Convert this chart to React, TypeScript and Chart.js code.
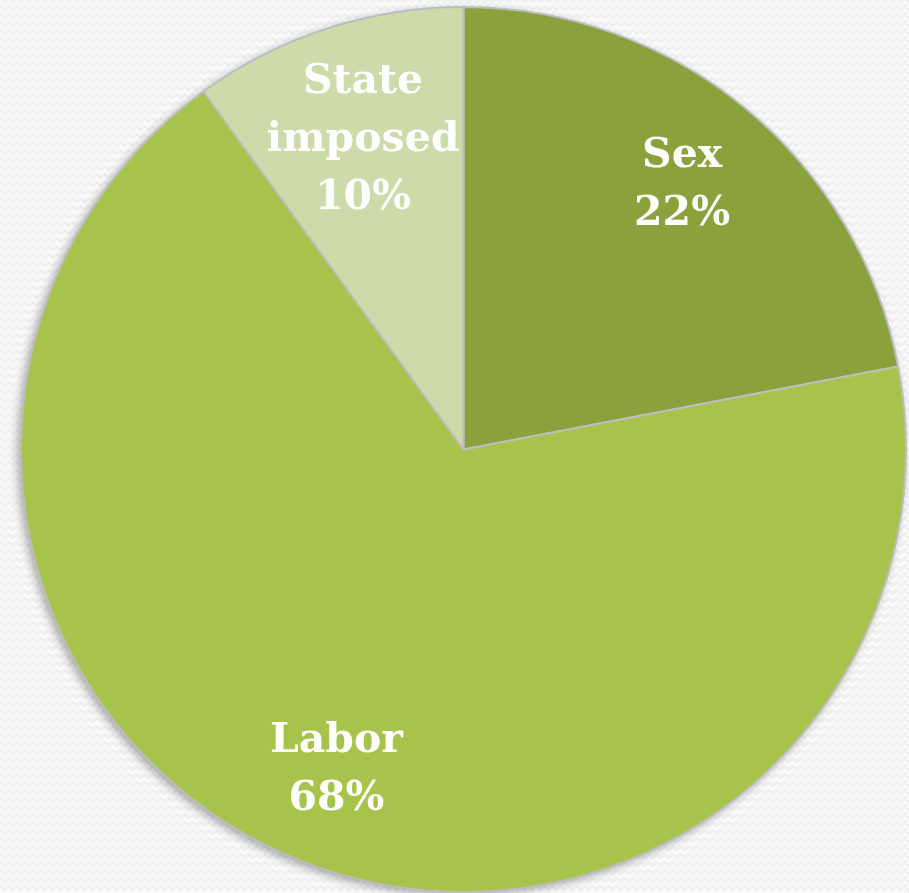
import React, { useEffect, useRef } from "react";
import { Chart, registerables } from "chart.js";

Chart.register(...registerables);

const categories = ["Sex", "Labor", "State\nimposed"];
const shares = [22, 68, 10];
const sliceColors = ["#8AA13C", "#A8C34B", "#CDDAAA"];
const labelRadius = [0.775, 0.78, 0.735];

const shadowPlugin = {
  id: "pieShadow",
  beforeDatasetsDraw(chart: any) {
    const meta = chart.getDatasetMeta(0);
    const arc = meta.data[0];
    if (!arc) return;
    const { x, y, outerRadius } = arc.getProps(["x", "y", "outerRadius"], true);
    const ctx = chart.ctx;
    ctx.save();
    ctx.shadowColor = "rgba(0,0,0,0.35)";
    ctx.shadowBlur = 10;
    ctx.shadowOffsetX = -3;
    ctx.shadowOffsetY = 3;
    ctx.beginPath();
    ctx.arc(x, y, outerRadius, 0, Math.PI * 2);
    ctx.fillStyle = "#bdbdbd";
    ctx.fill();
    ctx.restore();
  },
};

const labelPlugin = {
  id: "sliceLabels",
  afterDatasetsDraw(chart: any) {
    const meta = chart.getDatasetMeta(0);
    const ctx = chart.ctx;
    const data = chart.data.datasets[0].data as number[];
    const total = data.reduce((a, b) => a + b, 0);
    ctx.save();
    ctx.fillStyle = "#ffffff";
    ctx.font = "bold 41px 'DejaVu Serif'";
    ctx.textAlign = "center";
    ctx.textBaseline = "middle";
    meta.data.forEach((el: any, i: number) => {
      const { x, y, startAngle, endAngle, outerRadius } = el.getProps(
        ["x", "y", "startAngle", "endAngle", "outerRadius"],
        true
      );
      const mid = (startAngle + endAngle) / 2;
      const r = outerRadius * labelRadius[i];
      const cx = x + Math.cos(mid) * r;
      const cy = y + Math.sin(mid) * r;
      const lines = [
        ...String(chart.data.labels[i]).split("\n"),
        Math.round((data[i] / total) * 100) + "%",
      ];
      const lh = 58;
      const top = cy - ((lines.length - 1) * lh) / 2;
      lines.forEach((t, k) => ctx.fillText(t, cx, top + k * lh));
    });
    ctx.restore();
  },
};

export default function App() {
  const ref = useRef<HTMLCanvasElement>(null);
  useEffect(() => {
    document.body.style.margin = "0";
    const chart = new Chart(ref.current!, {
      type: "pie",
      data: {
        labels: categories,
        datasets: [
          {
            data: shares,
            backgroundColor: sliceColors,
            borderColor: "#BDBDBD",
            borderWidth: 2,
          },
        ],
      },
      options: {
        animation: false,
        responsive: false,
        layout: { padding: { left: 18, top: 6, right: 0, bottom: 0 } },
        plugins: { legend: { display: false }, tooltip: { enabled: false } },
      },
      plugins: [shadowPlugin, labelPlugin],
    });
    return () => chart.destroy();
  }, []);
  const bg = "#f0f0f0";
  return (
    <div
      style={{
        width: 909,
        height: 893,
        position: "relative",
        backgroundColor: "#fafafa",
        backgroundImage: `linear-gradient(135deg, ${bg} 25%, transparent 25%), linear-gradient(225deg, ${bg} 25%, transparent 25%), linear-gradient(315deg, ${bg} 25%, transparent 25%), linear-gradient(45deg, ${bg} 25%, transparent 25%)`,
        backgroundPosition: "-4px 0, -4px 0, 0 0, 0 0",
        backgroundSize: "8px 8px",
      }}
    >
      <canvas ref={ref} width={909} height={893} style={{ display: "block" }} />
    </div>
  );
}
